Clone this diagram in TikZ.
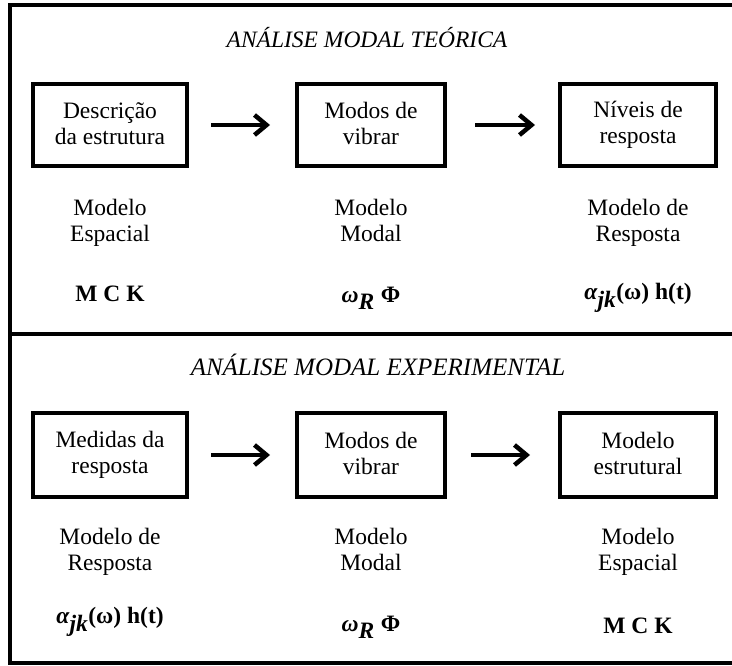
\documentclass[tikz,border=0pt]{standalone}
\usepackage{fontspec}
\setmainfont{Liberation Serif}
\usetikzlibrary{arrows.meta}
\tikzset{
  txt/.style={font=\fontsize{23.5}{26}\selectfont, align=center, inner sep=0pt,
    execute at begin node=\strut, execute at end node=\strut},
  stage/.style={txt, draw, line width=4pt, minimum height=82pt},
  title/.style={font=\fontsize{23.5}{26}\selectfont\itshape, inner sep=0pt},
  flow/.style={line width=4.5pt, -{Straight Barb[length=12pt,width=20pt]}},
  frame/.style={line width=3.5pt}
}
\newcommand{\bfit}[1]{\textbf{\textit{#1}}}
% one line of box text, set slightly low inside its box
\newcommand{\dn}[1]{\raisebox{-4pt}{#1}}
\begin{document}
\begin{tikzpicture}[x=1pt,y=-1pt]
\useasboundingbox (0,0) rectangle (732,666);

% outer frame and divider
\coordinate (tl) at (10,5);
\coordinate (tr) at (733,5);
\coordinate (bl) at (10,663);
\coordinate (br) at (733,663);
\coordinate (ml) at (10,334);
\coordinate (mr) at (733,334);
\draw[frame] (tr) -- (tl) -- (bl) -- (br);
\draw[frame] (ml) -- (mr);

% upper panel: theoretical analysis
\node[title] (t1) at (367,38) {ANÁLISE MODAL TEÓRICA};
\node[stage, minimum width=154pt] (a1) at (110,125) {\dn{Descrição}\\\dn{da estrutura}};
\node[stage, minimum width=148pt] (a2) at (371,125) {\dn{Modos de}\\\dn{vibrar}};
\node[stage, minimum width=156pt] (a3) at (638,125) {\dn{Níveis de}\\\dn{resposta}};
\draw[flow] ([xshift=22pt]a1.east) -- ([xshift=-25pt]a2.west);
\draw[flow] ([xshift=28pt]a2.east) -- ([xshift=-23pt]a3.west);

\node[txt] (m1) at (110,224) {Modelo\\Espacial};
\node[txt] (m2) at (371,224) {Modelo\\Modal};
\node[txt] (m3) at (638,224) {Modelo de\\Resposta};
\node[txt] (s1) at (110,296) {\textbf{M C K}};
\node[txt] (s2) at (371,297) {\bfit{ω}$_{\textit{\textbf{R}}}$ \textbf{Φ}};
\node[txt] (s3) at (638,297) {\bfit{α}$_{\textit{\textbf{jk}}}$\textbf{(ω) h(t)}};

% lower panel: experimental analysis
\node[title, font=\fontsize{25}{28}\selectfont\itshape] (t2) at (378,365) {ANÁLISE MODAL EXPERIMENTAL};
\node[stage, minimum width=154pt, minimum height=84pt] (b1) at (110,455) {\dn{Medidas da}\\\dn{resposta}};
\node[stage, minimum width=148pt, minimum height=84pt] (b2) at (371,455) {\dn{Modos de}\\\dn{vibrar}};
\node[stage, minimum width=156pt, minimum height=84pt] (b3) at (638,455) {\dn{Modelo}\\\dn{estrutural}};
\draw[flow] ([xshift=22pt]b1.east) -- ([xshift=-25pt]b2.west);
\draw[flow] ([xshift=24pt]b2.east) -- ([xshift=-28pt]b3.west);

\node[txt] (n1) at (110,553) {Modelo de\\Resposta};
\node[txt] (n2) at (371,553) {Modelo\\Modal};
\node[txt] (n3) at (638,553) {Modelo\\Espacial};
\node[txt] (r1) at (110,621) {\bfit{α}$_{\textit{\textbf{jk}}}$\textbf{(ω) h(t)}};
\node[txt] (r2) at (371,626) {\bfit{ω}$_{\textit{\textbf{R}}}$ \textbf{Φ}};
\node[txt] (r3) at (638,628) {\textbf{M C K}};
\end{tikzpicture}
\end{document}
